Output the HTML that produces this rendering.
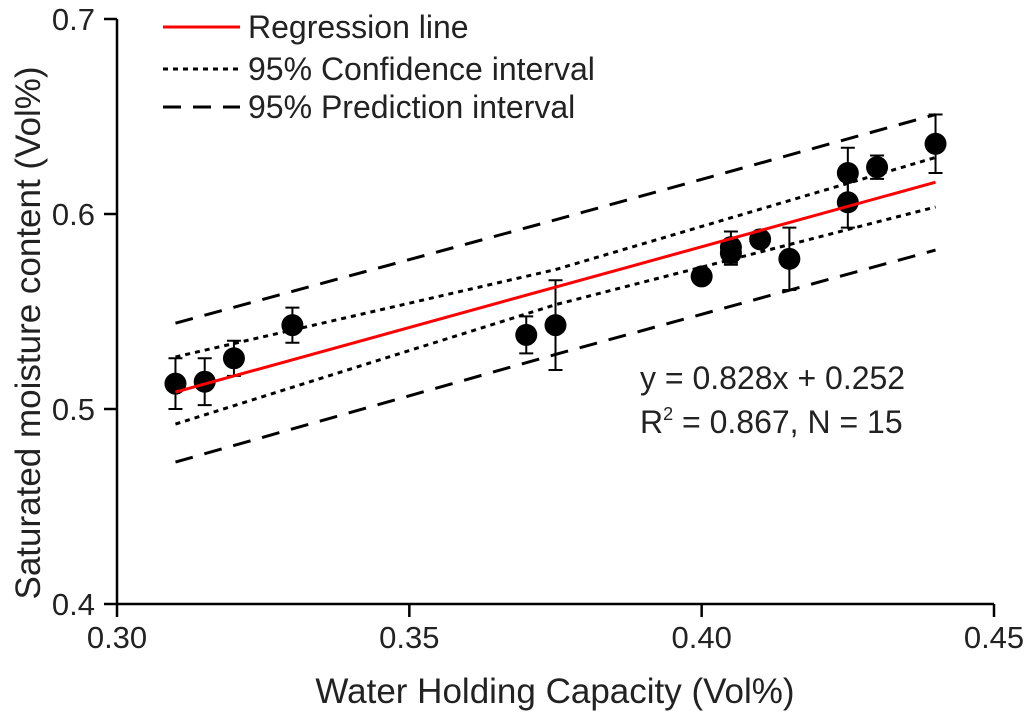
<!DOCTYPE html>
<html><head><meta charset="utf-8"><style>
html,body{margin:0;padding:0;background:#fff;}
svg{display:block;font-family:"Liberation Sans",Arial,sans-serif;}
</style></head><body>
<svg id="chart" width="1024" height="716" viewBox="0 0 1024 716"></svg>
<script>
const xs = [0.31,0.315,0.32,0.33,0.37,0.375,0.40,0.405,0.405,0.41,0.415,0.425,0.425,0.43,0.44];
const ys = [0.513,0.514,0.526,0.543,0.538,0.543,0.568,0.583,0.580,0.587,0.577,0.621,0.606,0.624,0.636];
const errs = [0.013,0.012,0.009,0.009,0.0095,0.023,0.003,0.008,0.006,0.003,0.016,0.013,0.013,0.006,0.015];
const bandX = [0.31,0.375,0.44];
const ciUpper = [0.5267,0.5715,0.629];
const ciLower = [0.4923,0.5535,0.6036];
const piUpper = [0.544,0.597,0.651];
const piLower = [0.4728,0.528,0.5815];
const slope = 0.828, intercept = 0.252;
const xTicks = [0.30,0.35,0.40,0.45];
const yTicks = [0.4,0.5,0.6,0.7];

const X0=117,X1=994,Y0=604,Y1=19;
const sx=v=>X0+(v-0.30)/0.15*(X1-X0);
const sy=v=>Y0-(v-0.4)/0.3*(Y0-Y1);
const svg=document.getElementById('chart');
const NS='http://www.w3.org/2000/svg';
function mk(tag,attrs,parent){const e=document.createElementNS(NS,tag);for(const k in attrs)e.setAttribute(k,attrs[k]);(parent||svg).appendChild(e);return e;}

let ax=mk('path',{d:`M${X0} ${Y1}V${Y0}H${X1}`,fill:'none',stroke:'#000','stroke-width':2.5});


yTicks.forEach(t=>{
  let l=mk('line',{x1:X0-13,x2:X0,y1:sy(t),y2:sy(t),stroke:'#000','stroke-width':2.5});
  
  
  let tx=mk('text',{x:X0-22,y:sy(t)+11,'text-anchor':'end','font-size':31,fill:'#222'});
  tx.textContent=t.toFixed(1);
  
  
});
xTicks.forEach(t=>{
  let l=mk('line',{x1:sx(t),x2:sx(t),y1:Y0,y2:Y0+13,stroke:'#000','stroke-width':2.5});
  
  
  let tx=mk('text',{x:sx(t),y:648,'text-anchor':'middle','font-size':31,fill:'#222'});
  tx.textContent=t.toFixed(2);
  
  
});
let xt=mk('text',{x:555,y:703,'text-anchor':'middle','font-size':35,fill:'#222'});
xt.textContent='Water Holding Capacity (Vol%)';


let yt=mk('text',{x:0,y:0,'text-anchor':'middle','font-size':35,fill:'#222',transform:'translate(40,333) rotate(-90)'});
yt.textContent='Saturated moisture content (Vol%)';



function band(arr,dash,name){
  const d=arr.map((v,i)=>(i?'L':'M')+sx(bandX[i])+' '+sy(v)).join('');
  const p=mk('path',{d,fill:'none',stroke:'#000','stroke-width':3,'stroke-dasharray':dash});
  
  
}
band(piUpper,'18 12','prediction-upper');
band(piLower,'18 12','prediction-lower');
band(ciUpper,'5 5','confidence-upper');
band(ciLower,'5 5','confidence-lower');

xs.forEach((x,i)=>{
  const cx=sx(x),cy=sy(ys[i]),t=sy(ys[i]+errs[i]),b=sy(ys[i]-errs[i]);
  const g=mk('g',{});
  
  
  mk('path',{d:`M${cx} ${t}V${b}M${cx-7} ${t}H${cx+7}M${cx-7} ${b}H${cx+7}`,stroke:'#000','stroke-width':2,fill:'none'},g);
  mk('circle',{cx,cy,r:11,fill:'#000'},g);
});

let rl=mk('line',{x1:sx(0.31),y1:sy(slope*0.31+intercept),x2:sx(0.44),y2:sy(slope*0.44+intercept),stroke:'#f00','stroke-width':3});



const legend=[['Regression line','#f00','none',27],['95% Confidence interval','#000','5 5',69],['95% Prediction interval','#000','18 12',107]];
legend.forEach(([lab,col,dash,y])=>{
  const g=mk('g',{});
  
  
  mk('line',{x1:163,x2:240,y1:y,y2:y,stroke:col,'stroke-width':3,'stroke-dasharray':dash},g);
  const t=mk('text',{x:248,y:y+11,'font-size':32,fill:'#222'},g);
  t.textContent=lab;
});

let e1=mk('text',{x:640,y:389,'font-size':32,fill:'#222'});
e1.textContent='y = 0.828x + 0.252';


let e2=mk('text',{x:640,y:433,'font-size':32,fill:'#222'});
e2.innerHTML='R<tspan dy="-13" font-size="18">2</tspan><tspan dy="13"> = 0.867, N = 15</tspan>';


</script>
</body></html>
